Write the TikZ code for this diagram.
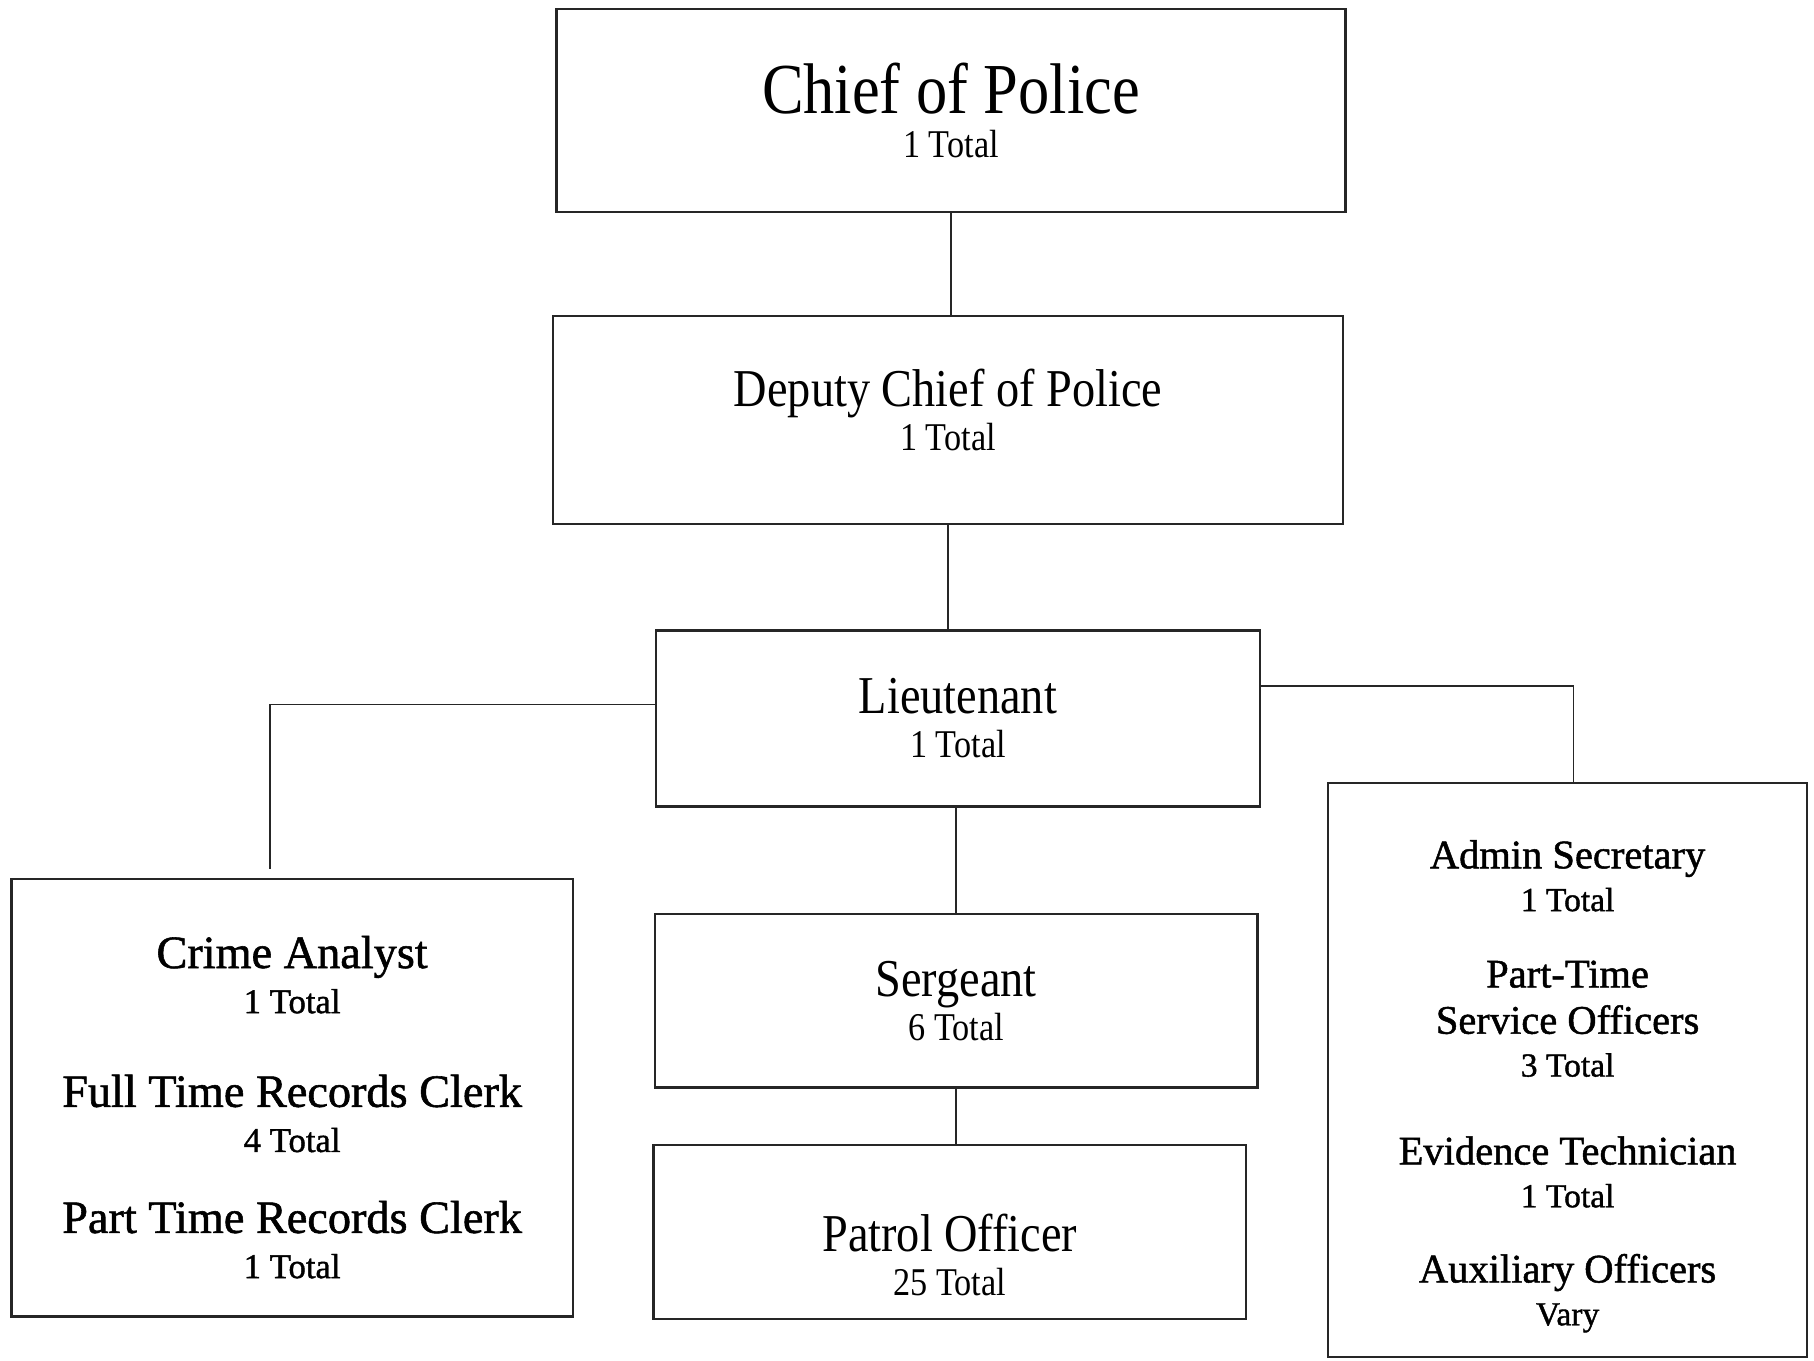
\documentclass[tikz,border=0pt]{standalone}
\usepackage{fontspec}
\setmainfont{Liberation Serif}
\newfontfamily\narrowserif{Liberation Serif}[FakeStretch=0.87]
\newfontfamily\heavyserif{Liberation Serif}[FakeBold=1.2]
\usetikzlibrary{positioning}
\tikzstyle{ranktext} = [inner sep=0pt, align=center, font=\narrowserif\fontsize{46}{38}\selectfont]
\tikzstyle{rank} = [ranktext, rectangle, draw=black!85, line width=2pt]
\tikzstyle{staff} = [rectangle, draw=black!85, line width=2pt, inner sep=0pt]
\tikzstyle{stafftext} = [inner sep=0pt, align=center]
\tikzstyle{link} = [line width=1.3pt, draw=black!85]
\newcommand{\cnt}[1]{\fontsize{34}{38}\selectfont #1}
\newcommand{\rolename}[1]{\fontsize{40}{39}\selectfont #1}
\newcommand{\sidetitle}[1]{\fontsize{35}{37}\selectfont #1}

\begin{document}
\begin{tikzpicture}[x=1pt, y=-1pt]
\useasboundingbox (0,0) rectangle (1568,1176);

\node (chief) [rank, minimum width=682pt, minimum height=175pt, font=\narrowserif\fontsize{62}{38}\selectfont] at (822,95.5) {Chief of Police\\\cnt{1 Total}};
\node (deputy) [rank, minimum width=683pt, minimum height=180pt, below=88pt of chief, xshift=-2.5pt,
  label={[ranktext, yshift=9pt]center:{Deputy Chief of Police\\\cnt{1 Total}}}] {};
\node (lieut) [rank, minimum width=522pt, minimum height=152pt, below=90pt of deputy, xshift=8.5pt] {Lieutenant\\\cnt{1 Total}};
\node (sergeant) [rank, minimum width=521pt, minimum height=150pt, below=91pt of lieut, xshift=-1.5pt] {Sergeant\\\cnt{6 Total}};
\node (patrol) [rank, minimum width=512pt, minimum height=150pt, below=48pt of sergeant, xshift=-5.5pt,
  label={[ranktext, yshift=-20pt]center:{Patrol Officer\\\cnt{25 Total}}}] {};

% side boxes
\node (clerks) [staff, minimum width=485pt, minimum height=378pt,
  label={[stafftext, font=\heavyserif\fontsize{30}{39}\selectfont, yshift=-8pt]center:{\rolename{Crime Analyst}\\1 Total\\[42pt]\rolename{Full Time Records Clerk}\\4 Total\\[31pt]\rolename{Part Time Records Clerk}\\1 Total}}] at (252.5,949) {};
\node (support) [staff, minimum width=414pt, minimum height=496pt,
  label={[stafftext, font=\heavyserif\fontsize{29}{37}\selectfont, yshift=-14pt]center:{\sidetitle{Admin Secretary}\\1 Total\\[29pt]\sidetitle{Part-Time}\\[3pt]\sidetitle{Service Officers}\\3 Total\\[39pt]\sidetitle{Evidence Technician}\\1 Total\\[28pt]\sidetitle{Auxiliary Officers}\\Vary}}] at (1355,925) {};

\draw [link] (chief.south) -- (chief.south |- deputy.north);
\draw [link] (deputy.south) -- (deputy.south |- lieut.north);
\draw [link] (sergeant.north) -- (sergeant.north |- lieut.south);
\draw [link] (sergeant.south) -- (sergeant.south |- patrol.north);
\draw [link] ([yshift=12pt]lieut.west) -| ([xshift=-19pt, yshift=8pt]clerks.north);
\draw [link] ([yshift=28pt]lieut.east) -| ([xshift=5pt]support.north);

\end{tikzpicture}
\end{document}
